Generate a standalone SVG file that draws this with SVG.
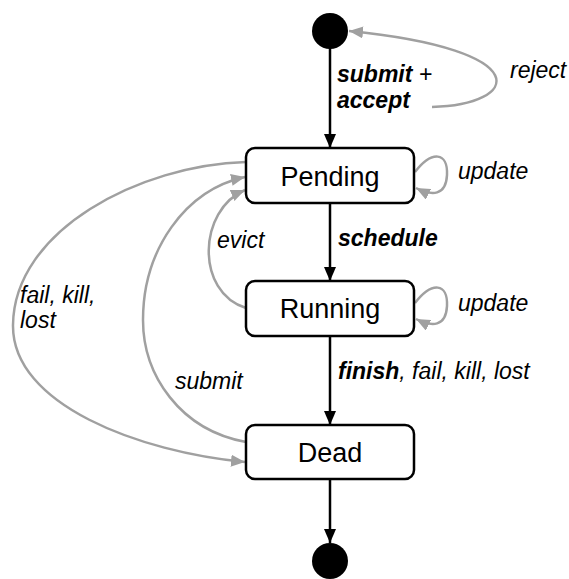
<svg xmlns="http://www.w3.org/2000/svg" width="569" height="579" viewBox="0 0 569 579">
<defs>
<style>
.box{fill:#fff;stroke:#000;stroke-width:2.5}
.blk{fill:none;stroke:#000;stroke-width:2.5}
.gry{fill:none;stroke:#a0a0a0;stroke-width:2.5}
.st{font-family:"Liberation Sans",Arial,sans-serif;font-size:27px;text-anchor:middle;fill:#000}
.lb{font-family:"Liberation Sans",Arial,sans-serif;font-size:23px;font-style:italic;fill:#000}
.b{font-weight:bold}
</style>
<marker id="ab" markerWidth="14" markerHeight="12" refX="14" refY="6" orient="auto" markerUnits="userSpaceOnUse"><path d="M0,0 L14,6 L0,12 Z" fill="#000"/></marker>
<marker id="ag" markerWidth="14" markerHeight="12" refX="14" refY="6" orient="auto" markerUnits="userSpaceOnUse"><path d="M0,0 L14,6 L0,12 Z" fill="#a0a0a0"/></marker>
</defs>
<g id="connectors">
<path class="blk" d="M330,48 L330,148" marker-end="url(#ab)"/>
<path class="blk" d="M330,203 L330,281" marker-end="url(#ab)"/>
<path class="blk" d="M330,336 L330,425" marker-end="url(#ab)"/>
<path class="blk" d="M330,479 L330,543" marker-end="url(#ab)"/>
<path class="gry" d="M432,107 C520,105 540,50 349,31" marker-end="url(#ag)"/>
<path class="gry" d="M415,172 C432,150 448,152 447,175 C446,196 432,196 416,188" marker-end="url(#ag)"/>
<path class="gry" d="M415,303 C432,281 448,283 447,306 C446,327 432,327 416,319" marker-end="url(#ag)"/>
<path class="gry" d="M246,308 C195,292 198,210 245,190" marker-end="url(#ag)"/>
<path class="gry" d="M246,442 C180,430 143,375 143,320 C143,250 185,190 245,177" marker-end="url(#ag)"/>
<path class="gry" d="M246,162 C140,165 14,230 13,325 C12,405 140,452 245,462" marker-end="url(#ag)"/>
</g>
<g id="start"><circle cx="330" cy="31" r="18" fill="#000"/></g>
<g id="pending"><rect class="box" x="246" y="148" width="168" height="55" rx="9"/><text class="st" x="330" y="186">Pending</text></g>
<g id="running"><rect class="box" x="246" y="281" width="168" height="55" rx="9"/><text class="st" x="330" y="318">Running</text></g>
<g id="dead"><rect class="box" x="246" y="425" width="168" height="54" rx="9"/><text class="st" x="330" y="462">Dead</text></g>
<g id="end"><circle cx="330" cy="561" r="18" fill="#000"/></g>
<g id="labels">
<text class="lb" x="337" y="82"><tspan class="b">submit</tspan> +</text>
<text class="lb b" x="337" y="108">accept</text>
<text class="lb" x="510" y="78">reject</text>
<text class="lb" x="458" y="179">update</text>
<text class="lb" x="458" y="311">update</text>
<text class="lb b" x="338" y="246">schedule</text>
<text class="lb" x="217" y="248">evict</text>
<text class="lb" x="20" y="303">fail, kill,</text>
<text class="lb" x="20" y="328">lost</text>
<text class="lb" x="175" y="389">submit</text>
<text class="lb" x="338" y="379"><tspan class="b">finish</tspan>, fail, kill, lost</text>
</g>
</svg>
